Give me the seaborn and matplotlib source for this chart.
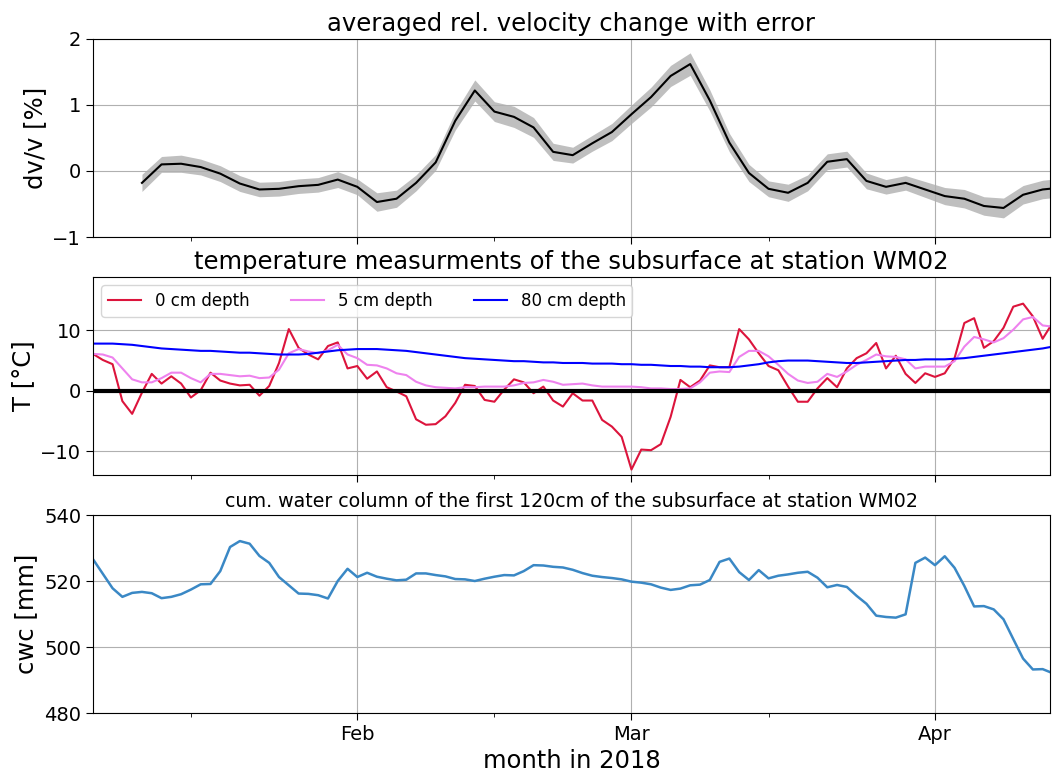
import numpy as np
import pandas as pd
import matplotlib
matplotlib.use("Agg")
import matplotlib.pyplot as plt
import matplotlib.dates as mdates
import seaborn as sns

# ---------------- data ----------------
day_start = "2018-01-05"
n_days = 99
dv_start = "2018-01-10"

dvv = [-0.18, 0.10, 0.11, 0.06, -0.04, -0.19, -0.28, -0.27, -0.23, -0.21,
       -0.13, -0.24, -0.47, -0.42, -0.18, 0.13, 0.76, 1.22, 0.90, 0.82,
       0.66, 0.29, 0.24, 0.42, 0.59, 0.86, 1.12, 1.44, 1.62, 1.07,
       0.43, -0.03, -0.27, -0.33, -0.18, 0.14, 0.18, -0.15, -0.24, -0.18,
       -0.28, -0.38, -0.42, -0.53, -0.56, -0.36, -0.28, -0.25]
dvv_err = [0.13, 0.12, 0.13, 0.12, 0.12, 0.12, 0.11, 0.11, 0.11, 0.11,
           0.12, 0.12, 0.14, 0.13, 0.12, 0.12, 0.14, 0.16, 0.15, 0.16,
           0.15, 0.13, 0.12, 0.12, 0.13, 0.14, 0.15, 0.16, 0.17, 0.16,
           0.14, 0.13, 0.12, 0.13, 0.12, 0.12, 0.12, 0.12, 0.11, 0.11,
           0.12, 0.13, 0.14, 0.14, 0.15, 0.14, 0.14, 0.14]

t0 = [6.1, 5.1, 4.4, -1.7, -3.8, -0.3, 2.8, 1.2, 2.4, 1.2,
      -1.1, 0.1, 3.0, 1.7, 1.2, 0.9, 1.0, -0.8, 0.8, 4.6,
      10.2, 7.1, 6.0, 5.2, 7.4, 8.0, 3.7, 4.1, 2.0, 3.2,
      0.6, -0.1, -0.9, -4.7, -5.6, -5.5, -4.2, -2.0, 1.0, 0.8,
      -1.5, -1.8, 0.2, 1.9, 1.4, -0.4, 0.7, -1.6, -2.6, -0.4,
      -1.6, -1.6, -4.8, -5.9, -7.6, -13.0, -9.7, -9.8, -8.8, -4.3,
      1.8, 0.6, 1.7, 4.2, 3.9, 3.9, 10.2, 8.5, 6.2, 4.1,
      3.4, 0.7, -1.8, -1.8, 0.4, 2.1, 0.6, 3.7, 5.4, 6.2,
      7.9, 3.7, 5.8, 2.8, 1.3, 2.9, 2.3, 2.9, 5.4, 11.2,
      12.0, 7.1, 8.2, 10.4, 13.9, 14.4, 12.3, 8.6, 11.2]
t5 = [6.1, 6.0, 5.5, 3.7, 1.9, 1.4, 1.4, 2.1, 3.0, 3.0,
      2.1, 1.4, 2.8, 2.8, 2.6, 2.4, 2.5, 2.1, 2.2, 3.5,
      6.2, 6.9, 6.5, 6.2, 6.7, 7.6, 6.0, 5.4, 4.3, 4.2,
      3.7, 2.9, 2.6, 1.5, 0.9, 0.6, 0.5, 0.4, 0.6, 0.6,
      0.7, 0.7, 0.7, 0.9, 1.3, 1.4, 1.8, 1.5, 1.0, 1.1,
      1.2, 0.9, 0.7, 0.7, 0.7, 0.7, 0.6, 0.4, 0.4, 0.3,
      0.3, 0.4, 1.4, 3.0, 3.2, 3.1, 5.6, 6.6, 6.6, 5.7,
      4.3, 2.8, 1.7, 1.3, 1.5, 2.8, 2.3, 3.2, 4.3, 5.1,
      6.0, 5.7, 5.6, 5.2, 3.7, 4.0, 4.0, 4.0, 4.9, 7.3,
      8.9, 8.5, 8.0, 8.7, 10.1, 11.8, 12.2, 10.8, 10.6]
t80 = [7.8, 7.8, 7.8, 7.7, 7.6, 7.4, 7.2, 7.0, 6.9, 6.8,
       6.7, 6.6, 6.6, 6.5, 6.4, 6.3, 6.3, 6.2, 6.1, 6.0,
       6.0, 6.0, 6.1, 6.3, 6.5, 6.7, 6.8, 6.9, 6.9, 6.9,
       6.8, 6.7, 6.6, 6.4, 6.2, 6.0, 5.8, 5.6, 5.4, 5.3,
       5.2, 5.1, 5.0, 4.9, 4.9, 4.8, 4.7, 4.7, 4.6, 4.6,
       4.6, 4.5, 4.5, 4.5, 4.4, 4.4, 4.3, 4.3, 4.2, 4.1,
       4.1, 4.0, 4.0, 3.9, 3.9, 3.9, 4.0, 4.2, 4.4, 4.7,
       4.9, 5.0, 5.0, 5.0, 4.9, 4.8, 4.7, 4.6, 4.6, 4.7,
       4.8, 4.9, 5.0, 5.1, 5.1, 5.2, 5.2, 5.2, 5.3, 5.4,
       5.6, 5.8, 6.0, 6.2, 6.4, 6.6, 6.8, 7.0, 7.3]
cwc = [526.6, 522.2, 517.8, 515.2, 516.4, 516.7, 516.3, 514.8, 515.2, 516.0,
       517.4, 519.0, 519.1, 523.0, 530.3, 532.1, 531.3, 527.6, 525.5, 521.2,
       518.7, 516.2, 516.1, 515.7, 514.7, 520.0, 523.7, 521.2, 522.5, 521.3,
       520.7, 520.2, 520.4, 522.3, 522.3, 521.8, 521.4, 520.6, 520.5, 520.0,
       520.7, 521.3, 521.8, 521.7, 523.0, 524.8, 524.7, 524.3, 524.1, 523.4,
       522.4, 521.6, 521.2, 520.9, 520.5, 519.8, 519.5, 519.0, 518.0, 517.3,
       517.7, 518.7, 518.9, 520.3, 525.8, 526.8, 522.7, 520.3, 523.3, 520.8,
       521.6, 522.0, 522.5, 522.8, 521.0, 518.1, 518.8, 518.2, 515.5, 513.1,
       509.5, 509.1, 508.9, 509.9, 525.5, 527.1, 524.8, 527.5, 524.0, 518.5,
       512.3, 512.4, 511.4, 508.4, 502.4, 496.5, 493.2, 493.3, 492.1]

days = pd.date_range(day_start, periods=n_days, freq="D")
dv_days = pd.date_range(dv_start, periods=len(dvv), freq="2D")

df_t = pd.DataFrame({"date": np.tile(days, 3),
                     "T": t0 + t5 + t80,
                     "depth": ["0 cm depth"] * n_days + ["5 cm depth"] * n_days + ["80 cm depth"] * n_days})
df_dv = pd.DataFrame({"date": dv_days, "dvv": dvv, "err": dvv_err})
df_cwc = pd.DataFrame({"date": days, "cwc": cwc})

# ---------------- figure ----------------
plt.rcParams["font.family"] = ["DejaVu Sans"]
fig = plt.figure(figsize=(10.52, 7.72), dpi=100)
L, W, H = 0.0884, 0.9097, 0.2565
ax1 = fig.add_axes([L, 0.693, W, H])
ax2 = fig.add_axes([L, 0.3847, W, H], sharex=ax1)
ax3 = fig.add_axes([L, 0.0764, W, H], sharex=ax1)

# top
ax1.fill_between(df_dv["date"], df_dv["dvv"] - df_dv["err"], df_dv["dvv"] + df_dv["err"],
                 color="grey", alpha=0.5, linewidth=0)
sns.lineplot(data=df_dv, x="date", y="dvv", ax=ax1, color="black", linewidth=1.5)
ax1.set_ylim(-1, 2)
ax1.set_yticks([-1, 0, 1, 2])
ax1.set_ylabel("dv/v [%]", fontsize=17.5)
ax1.set_title("averaged rel. velocity change with error", fontsize=17.5)

# middle
sns.lineplot(data=df_t, x="date", y="T", hue="depth", ax=ax2,
             palette={"0 cm depth": "crimson", "5 cm depth": "violet", "80 cm depth": "blue"},
             linewidth=1.5)
ax2.axhline(0, color="black", linewidth=3)
ax2.set_ylim(-13.9, 18.8)
ax2.set_yticks([-10, 0, 10])
ax2.set_ylabel("T [°C]", fontsize=17.5)
ax2.set_title("temperature measurments of the subsurface at station WM02", fontsize=17.5)
ax2.legend(loc="upper left", ncol=3, fontsize=12, title=None, columnspacing=2.5)

# bottom
sns.lineplot(data=df_cwc, x="date", y="cwc", ax=ax3, color="#3a88c5", linewidth=1.8)
ax3.set_ylim(480, 540)
ax3.set_yticks([480, 500, 520, 540])
ax3.set_ylabel("cwc [mm]", fontsize=17.5)
ax3.set_title("cum. water column of the first 120cm of the subsurface at station WM02", fontsize=13.7)
ax3.set_xlabel("month in 2018", fontsize=17.5)

for ax in (ax1, ax2, ax3):
    ax.set_xlim(pd.Timestamp("2018-01-05"), pd.Timestamp("2018-04-12 18:00"))
    ax.xaxis.set_major_locator(mdates.MonthLocator())
    ax.xaxis.set_minor_locator(mdates.MonthLocator(bymonthday=15))
    ax.xaxis.set_major_formatter(mdates.DateFormatter("%b"))
    ax.tick_params(axis="both", which="major", labelsize=14, length=5)
    ax.tick_params(axis="x", which="minor", length=3)
    ax.grid(True, which="major", color="#b0b0b0", linewidth=0.8)
    if ax is not ax3:
        ax.set_xlabel("")
        plt.setp(ax.get_xticklabels(), visible=False)

fig.savefig("out.png", dpi=100)
